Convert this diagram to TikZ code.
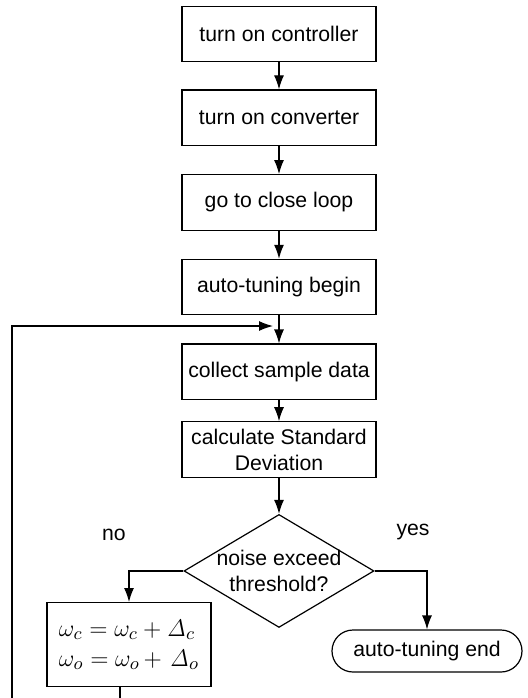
\documentclass[tikz,border=0pt]{standalone}
\usepackage[no-math]{fontspec}
\setmainfont{Liberation Sans}
\usepackage{tikz}
\usetikzlibrary{positioning,shapes.geometric,arrows.meta}

\begin{document}
\begin{tikzpicture}[x=0.5pt,y=-0.5pt,line width=0.6pt,font=\fontsize{10.6pt}{13pt}\selectfont]
      \tikzset{
        box/.style={draw, rectangle, minimum width=97pt, minimum height=27.75pt, inner sep=2pt, align=center, node distance=14pt},
        decision/.style={draw, diamond, minimum width=95pt, minimum height=56.5pt, inner sep=0pt},
        term/.style={draw, rectangle, rounded corners=10.5pt, minimum width=95pt, minimum height=21pt},
        update/.style={draw, rectangle, text width=70pt, inner xsep=6pt, minimum height=42pt, align=left, font=\fontsize{12.2pt}{14pt}\selectfont},
        line/.style={draw, -{Latex[length=7pt,width=5pt]}},
      }
      \useasboundingbox (0,0) rectangle (527,698);

      \node [box] (ctrl) at (279,34) {turn on controller};
      \node [box, below=13.5pt of ctrl] (conv) {turn on converter};
      \node [box, below=of conv] (loop) {go to close loop};
      \node [box, below=of loop] (tunebeg) {auto-tuning begin};
      \node [box, below=of tunebeg] (sample) {collect sample data};
      \node [box, below=10.5pt of sample] (stddev) {calculate Standard\\Deviation};
      \node [decision, below=18pt of stddev] (noise) {};
      \node [align=center] (noisetxt) at (noise) {noise exceed\\threshold?};

      \node [update, anchor=north] (upd) at (129,602)
        {$\omega_c=\omega_c+\mathit{\Delta}_c$\\[1pt]$\omega_o=\omega_o+\,\mathit{\Delta}_o$};
      \node [term] (tuneend) at (427,651) {auto-tuning end};

      \node (nolbl) at (114,535) {no};
      \node (yeslbl) at (413,532) {yes};

      % loop back (cut off at the bottom edge)
      \coordinate (fbtip) at (273,326);
      \coordinate (cutL) at (12,698);
      \coordinate (cutR) at (120,698);

      \path [line] (ctrl)--(conv);
      \path [line] (conv)--(loop);
      \path [line] (loop)--(tunebeg);
      \path [line] (tunebeg)--(sample);
      \path [line] (sample)--(stddev);
      \path [line] (stddev)--(noise);
      \path [line] (noise.west) -| (upd.north);
      \path [line] (noise.east) -| (tuneend.north);
      \draw (upd.south -| cutR)--(cutR);
      \path [line] (cutL) |- (fbtip);
\end{tikzpicture}
\end{document}
